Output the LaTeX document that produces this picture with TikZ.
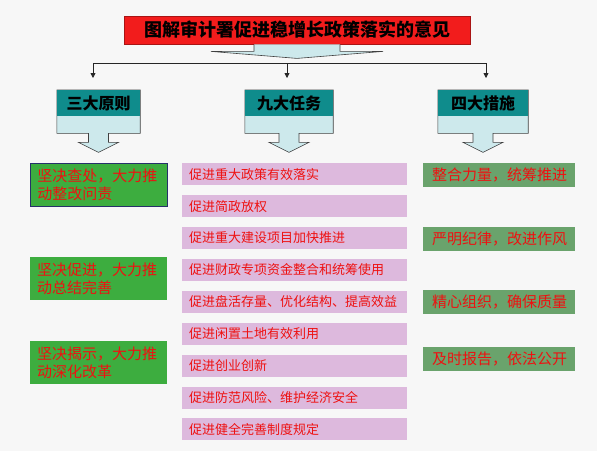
\documentclass[tikz,border=0pt]{standalone}
\usepackage{fontspec}
\setmainfont{Noto Sans CJK SC}
\usetikzlibrary{arrows.meta, positioning, calc, backgrounds}
\definecolor{cbg}{HTML}{F7F7F7}
\definecolor{cred}{HTML}{F21C1C}
\definecolor{cteal}{HTML}{0F8C8C}
\definecolor{ccyan}{HTML}{CDE9EC}
\definecolor{cgreen}{HTML}{3DAD3F}
\definecolor{cpink}{HTML}{DDB9DD}
\definecolor{cmoss}{HTML}{6AA36C}
\definecolor{ctext}{HTML}{EE1111}
\definecolor{cnavy}{HTML}{26306A}
\tikzset{
  titlebox/.style={fill=cred, draw=cred!70!black, line width=0.8pt, minimum width=346pt, minimum height=28pt, inner sep=0pt, font=\fontsize{18}{20}\selectfont\bfseries},
  headbox/.style={fill=cteal, anchor=north, minimum height=26pt, inner sep=0pt, font=\fontsize{16}{18}\selectfont\bfseries},
  callout/.style={fill=ccyan, draw=black!75, line width=0.6pt},
  rulebox/.style={fill=cgreen, anchor=north west, minimum height=43pt, text width=123pt, inner xsep=7pt, inner ysep=0pt, align=left, font=\fontsize{15}{18}\selectfont, text=ctext},
  taskbox/.style={fill=cpink, minimum height=22pt, text width=211pt, inner xsep=7pt, inner ysep=0pt, align=left, font=\fontsize{13}{15}\selectfont, text=ctext},
  actbox/.style={fill=cmoss, anchor=north west, minimum height=24pt, text width=134pt, inner xsep=9pt, inner ysep=0pt, align=left, font=\fontsize{15}{17}\selectfont, text=ctext},
  link/.style={draw=black!85, line width=0.8pt},
  tip/.style={link, -{Triangle[length=5pt, width=5pt]}},
}
\begin{document}
\begin{tikzpicture}[x=1pt, y=-1pt]
  \useasboundingbox (0,0) rectangle (597,451);
  % title and its arrow
  \node[titlebox] (title) at (297,30) {图解审计署促进稳增长政策落实的意见};
  \draw[callout] ($(title.south)+(-43,0)$) -- ++(0,7) -- ++(-43,0) -- ($(title.south)+(0,14)$)
    -- ($(title.south)+(86,7)$) -- ++(-43,0) -- ++(0,-7);
  % split line
  \coordinate (j1) at (93,63); \coordinate (j2) at (287,63); \coordinate (j3) at (486,63);
  \coordinate (e1) at (93,78); \coordinate (e2) at (287,78); \coordinate (e3) at (486,78);
  \draw[link] (j1) -- (j3);
  \draw[tip] (j1) -- (e1); \draw[tip] (j2) -- (e2); \draw[tip] (j3) -- (e3);
  % three headers
  \node[headbox, minimum width=83pt] (h1) at (98.5,90) {三大原则};
  \node[headbox, minimum width=88pt] (h2) at (289,90) {九大任务};
  \node[headbox, minimum width=90pt] (h3) at (483,90) {四大措施};
  \begin{scope}[on background layer]
    \fill[cbg] (0,0) rectangle (597,451);
    \foreach \h in {h1,h2,h3} {
      \draw[callout] (\h.north west) -- ($(\h.south west)+(0,17)$) -- ($(\h.south)+(-10,17)$)
        -- ($(\h.south)+(-10,26)$) -- ($(\h.south)+(-20,26)$) -- ($(\h.south)+(0,36)$)
        -- ($(\h.south)+(20,26)$) -- ($(\h.south)+(10,26)$) -- ($(\h.south)+(10,17)$)
        -- ($(\h.south east)+(0,17)$) -- (\h.north east) -- cycle;
    }
  \end{scope}
  % principles
  \node[rulebox, draw=cnavy, line width=0.8pt] (r1) at (30,163) {坚决查处，大力推\\动整改问责};
  \node[rulebox] (r2) at (30,257) {坚决促进，大力推\\动总结完善};
  \node[rulebox] (r3) at (30,341) {坚决揭示，大力推\\动深化改革};
  % tasks
  \node[taskbox, anchor=north west] (t1) at (182,163) {促进重大政策有效落实};
  \node[taskbox, below=9.5pt of t1] (t2) {促进简政放权};
  \node[taskbox, below=9.5pt of t2] (t3) {促进重大建设项目加快推进};
  \node[taskbox, below=9.5pt of t3] (t4) {促进财政专项资金整合和统筹使用};
  \node[taskbox, below=9.5pt of t4] (t5) {促进盘活存量、优化结构、提高效益};
  \node[taskbox, below=9.5pt of t5] (t6) {促进闲置土地有效利用};
  \node[taskbox, below=9.5pt of t6] (t7) {促进创业创新};
  \node[taskbox, below=9.5pt of t7] (t8) {促进防范风险、维护经济安全};
  \node[taskbox, below=9.5pt of t8] (t9) {促进健全完善制度规定};
  % measures
  \node[actbox] (m1) at (423,163) {整合力量，统筹推进};
  \node[actbox] (m2) at (423,227) {严明纪律，改进作风};
  \node[actbox] (m3) at (423,290) {精心组织，确保质量};
  \node[actbox] (m4) at (423,347) {及时报告，依法公开};
\end{tikzpicture}
\end{document}
